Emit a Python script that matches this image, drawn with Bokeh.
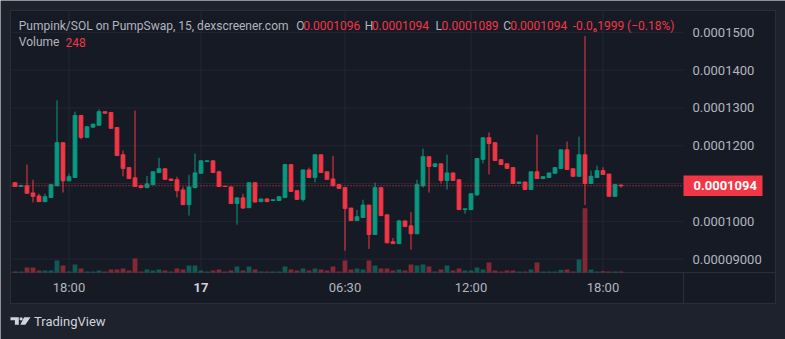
import numpy as np
from bokeh.plotting import figure
from bokeh.models import Range1d, Label, ColumnDataSource
from bokeh.embed import file_html
from bokeh.resources import INLINE

# ---------------- data ----------------
time_tick_index = [9, 31, 55, 76, 98]
time_tick_labels = ["18:00", "17", "06:30", "12:00", "18:00"]
time_tick_bold = [False, True, False, False, False]

price_ticks = [0.00009, 0.0001, 0.00011, 0.00012, 0.00013, 0.00014, 0.00015]
price_tick_labels = ["0.00009000", "0.0001000", "0.0001100", "0.0001200",
                     "0.0001300", "0.0001400", "0.0001500"]

opens = [
    0.0001102, 0.0001092, 0.0001094, 0.0001075, 0.0001067, 0.0001052, 0.0001063, 0.0001094, 0.0001208, 0.0001107,
    0.0001116, 0.0001280, 0.0001222, 0.0001249, 0.0001254, 0.0001290, 0.0001288, 0.0001248, 0.0001176, 0.0001142,
    0.0001115, 0.0001094, 0.0001089, 0.0001097, 0.0001129, 0.0001139, 0.0001112, 0.0001110, 0.0001083, 0.0001044,
    0.0001089, 0.0001127, 0.0001158, 0.0001160, 0.0001131, 0.0001093, 0.0001091, 0.0001047, 0.0001062, 0.0001036,
    0.0001102, 0.0001052, 0.0001059, 0.0001055, 0.0001055, 0.0001063, 0.0001150, 0.0001081, 0.0001058, 0.0001136,
    0.0001116, 0.0001176, 0.0001131, 0.0001112, 0.0001097, 0.0001089, 0.0001035, 0.0001002, 0.0001010, 0.0001043,
    0.0000965, 0.0001089, 0.0001017, 0.0000946, 0.0000941, 0.0001001, 0.0000988, 0.0000967, 0.0001094, 0.0001171,
    0.0001145, 0.0001152, 0.0001108, 0.0001128, 0.0001110, 0.0001031, 0.0001031, 0.0001070, 0.0001164, 0.0001221,
    0.0001208, 0.0001163, 0.0001152, 0.0001142, 0.0001100, 0.0001104, 0.0001084, 0.0001131, 0.0001113, 0.0001116,
    0.0001127, 0.0001140, 0.0001189, 0.0001139, 0.0001119, 0.0001176, 0.0001100, 0.0001116, 0.0001134, 0.0001125,
    0.0001066, 0.0001096]

highs = [
    0.0001104, 0.0001097, 0.0001150, 0.0001110, 0.0001073, 0.0001073, 0.0001099, 0.0001320, 0.0001208, 0.0001126,
    0.0001290, 0.0001280, 0.0001250, 0.0001257, 0.0001296, 0.0001290, 0.0001288, 0.0001248, 0.0001187, 0.0001142,
    0.0001293, 0.0001097, 0.0001120, 0.0001131, 0.0001168, 0.0001139, 0.0001112, 0.0001118, 0.0001091, 0.0001123,
    0.0001179, 0.0001160, 0.0001160, 0.0001160, 0.0001134, 0.0001093, 0.0001091, 0.0001062, 0.0001073, 0.0001102,
    0.0001102, 0.0001059, 0.0001062, 0.0001057, 0.0001065, 0.0001150, 0.0001150, 0.0001081, 0.0001136, 0.0001142,
    0.0001176, 0.0001176, 0.0001131, 0.0001173, 0.0001097, 0.0001089, 0.0001035, 0.0001030, 0.0001057, 0.0001043,
    0.0001102, 0.0001089, 0.0001017, 0.0000956, 0.0001004, 0.0001001, 0.0001025, 0.0001110, 0.0001192, 0.0001171,
    0.0001152, 0.0001152, 0.0001176, 0.0001128, 0.0001110, 0.0001033, 0.0001073, 0.0001166, 0.0001221, 0.0001235,
    0.0001208, 0.0001163, 0.0001152, 0.0001142, 0.0001104, 0.0001104, 0.0001131, 0.0001229, 0.0001118, 0.0001128,
    0.0001142, 0.0001189, 0.0001211, 0.0001139, 0.0001224, 0.0001490, 0.0001134, 0.0001147, 0.0001143, 0.0001125,
    0.0001097, 0.0001096]

lows = [
    0.0001092, 0.0001092, 0.0001074, 0.0001050, 0.0001052, 0.0001052, 0.0001063, 0.0001094, 0.0001076, 0.0001107,
    0.0001116, 0.0001217, 0.0001222, 0.0001249, 0.0001254, 0.0001286, 0.0001246, 0.0001174, 0.0001119, 0.0001113,
    0.0001092, 0.0001089, 0.0001089, 0.0001097, 0.0001129, 0.0001111, 0.0001108, 0.0001063, 0.0001044, 0.0001015,
    0.0001089, 0.0001127, 0.0001158, 0.0001129, 0.0001092, 0.0001092, 0.0001047, 0.0000991, 0.0001033, 0.0001036,
    0.0001050, 0.0001052, 0.0001052, 0.0001055, 0.0001055, 0.0001063, 0.0001079, 0.0001058, 0.0001052, 0.0001116,
    0.0001103, 0.0001129, 0.0001111, 0.0001094, 0.0001087, 0.0000922, 0.0001002, 0.0001002, 0.0001010, 0.0000927,
    0.0000965, 0.0001015, 0.0000943, 0.0000941, 0.0000941, 0.0000986, 0.0000925, 0.0000967, 0.0001089, 0.0001076,
    0.0001143, 0.0001100, 0.0001084, 0.0001108, 0.0001031, 0.0001020, 0.0001031, 0.0001067, 0.0001153, 0.0001124,
    0.0001161, 0.0001150, 0.0001140, 0.0001100, 0.0001100, 0.0001084, 0.0001084, 0.0001113, 0.0001113, 0.0001116,
    0.0001127, 0.0001140, 0.0001137, 0.0001119, 0.0001119, 0.0001043, 0.0001100, 0.0001116, 0.0001124, 0.0001066,
    0.0001066, 0.0001089]

closes = [
    0.0001092, 0.0001094, 0.0001074, 0.0001066, 0.0001052, 0.0001065, 0.0001097, 0.0001208, 0.0001107, 0.0001118,
    0.0001280, 0.0001222, 0.0001250, 0.0001257, 0.0001290, 0.0001286, 0.0001246, 0.0001174, 0.0001140, 0.0001113,
    0.0001092, 0.0001089, 0.0001099, 0.0001131, 0.0001139, 0.0001111, 0.0001108, 0.0001081, 0.0001044, 0.0001091,
    0.0001128, 0.0001160, 0.0001160, 0.0001129, 0.0001092, 0.0001092, 0.0001047, 0.0001062, 0.0001035, 0.0001102,
    0.0001051, 0.0001059, 0.0001052, 0.0001057, 0.0001065, 0.0001150, 0.0001079, 0.0001058, 0.0001136, 0.0001116,
    0.0001176, 0.0001129, 0.0001111, 0.0001094, 0.0001087, 0.0001034, 0.0001002, 0.0001012, 0.0001043, 0.0000965,
    0.0001089, 0.0001015, 0.0000943, 0.0000941, 0.0001001, 0.0000986, 0.0000967, 0.0001097, 0.0001171, 0.0001145,
    0.0001152, 0.0001108, 0.0001128, 0.0001108, 0.0001031, 0.0001033, 0.0001073, 0.0001166, 0.0001221, 0.0001206,
    0.0001161, 0.0001150, 0.0001140, 0.0001100, 0.0001104, 0.0001084, 0.0001131, 0.0001113, 0.0001118, 0.0001128,
    0.0001142, 0.0001189, 0.0001137, 0.0001119, 0.0001176, 0.0001100, 0.0001119, 0.0001134, 0.0001124, 0.0001066,
    0.0001097, 0.0001094]

volumes = [
    240, 240, 1200, 1200, 480, 480, 480, 2880, 1680, 240,
    1920, 960, 240, 240, 480, 240, 720, 720, 960, 480,
    3360, 240, 720, 480, 720, 480, 240, 960, 720, 1680,
    1680, 480, 240, 480, 720, 240, 480, 1440, 480, 1440,
    720, 240, 240, 240, 240, 1440, 720, 480, 960, 480,
    960, 720, 480, 1440, 240, 2880, 720, 960, 720, 2880,
    1680, 960, 960, 480, 720, 480, 1920, 1680, 1920, 1440,
    240, 720, 1680, 480, 960, 480, 480, 1200, 720, 2400,
    480, 240, 480, 480, 240, 240, 720, 2400, 240, 240,
    240, 640, 720, 240, 3120, 15440, 720, 240, 320, 240,
    240, 248]

header_title = "Pumpink/SOL on PumpSwap, 15, dexscreener.com"
header_ohlc = [("O", "0.0001096"), ("H", "0.0001094"), ("L", "0.0001089"), ("C", "0.0001094")]
header_change = "-0.0\u20861999 (\u22120.18%)"
volume_label = "248"
last_price_label = "0.0001094"

# ---------------- styling / layout ----------------
UP, DOWN = "#089981", "#f23645"
BG, OUTER, EDGE = "#161a25", "#1e222d", "#2a2e39"
GRID = "#232633"
TXT = "#b2b5be"
FONT = "Roboto"

W, H = 785, 339
PANEL_L, PANEL_T, PANEL_R, PANEL_B = 10, 10, 775, 303
SCALE_X, SCALE_Y = 683, 272          # price-scale / time-scale borders (px)
BAR_PX, FIRST_BAR_PX = 6.0, 14.5
PRICE_PX_PER_UNIT, P150_PX = 0.378, 31.8   # px per 1e-7, px of 0.00015

X0 = -FIRST_BAR_PX / BAR_PX
X1 = X0 + W / BAR_PX
Y1 = 0.00015 + (P150_PX - 0) / PRICE_PX_PER_UNIT * 1e-7
Y0 = 0.00015 - (H - P150_PX) / PRICE_PX_PER_UNIT * 1e-7


def dx(px):
    return X0 + px * (X1 - X0) / W


def dy(py):
    return Y1 - py * (Y1 - Y0) / H


p = figure(width=W, height=H, output_backend="svg", toolbar_location=None,
           x_axis_location=None, y_axis_location=None,
           x_range=Range1d(X0, X1), y_range=Range1d(Y0, Y1),
           min_border_left=0, min_border_top=0, min_border_right=0, min_border_bottom=0,
           background_fill_color=OUTER, border_fill_color=OUTER, outline_line_color=None)
p.xgrid.visible = False
p.ygrid.visible = False

# volume scale: bars start on top of the time scale, 240 units per px
vol_per_px = 240.0
p.extra_y_ranges = {"vol": Range1d(-(H - SCALE_Y) * vol_per_px, SCALE_Y * vol_per_px)}

# chart panel
p.quad(left=[dx(PANEL_L)], right=[dx(PANEL_R)], top=[dy(PANEL_T)], bottom=[dy(PANEL_B)],
       fill_color=BG, line_color=EDGE, line_width=1)

n = len(opens)
idx = np.arange(n)
o = np.array(opens); c = np.array(closes); hi = np.array(highs); lo = np.array(lows)
colors = [UP if cc >= oo else DOWN for oo, cc in zip(opens, closes)]

src = ColumnDataSource(dict(x=idx, o=o, c=c, h=hi, l=lo,
                            top=np.maximum(o, c), bot=np.minimum(o, c),
                            vol=volumes, color=colors))

# grid
p.segment(x0=dx(PANEL_L + 1), x1=dx(SCALE_X), y0=price_ticks, y1=price_ticks, line_color=GRID, line_width=1)
p.segment(x0=time_tick_index, x1=time_tick_index, y0=dy(SCALE_Y), y1=dy(PANEL_T + 1),
          line_color=GRID, line_width=1)
# scale separators
p.segment(x0=[dx(PANEL_L)], x1=[dx(PANEL_R)], y0=[dy(SCALE_Y)], y1=[dy(SCALE_Y)], line_color=EDGE, line_width=1)
p.segment(x0=[dx(SCALE_X)], x1=[dx(SCALE_X)], y0=[dy(SCALE_Y)], y1=[dy(PANEL_B)], line_color=EDGE, line_width=1)

# volume
p.vbar(x="x", top="vol", bottom=0, width=0.8, fill_color="color", fill_alpha=0.5,
       line_color=None, y_range_name="vol", source=src)

# candles
p.segment(x0="x", x1="x", y0="l", y1="h", line_color="color", line_width=1, source=src)
p.vbar(x="x", top="top", bottom="bot", width=0.62, fill_color="color", line_color="color",
       line_width=1, source=src)

# last price line
last = closes[-1]
p.segment(x0=[dx(PANEL_L + 1)], x1=[dx(SCALE_X)], y0=[last], y1=[last], line_color=DOWN, line_width=1,
          line_dash="1 2")

# price scale labels
for v, t in zip(price_ticks, price_tick_labels):
    if abs(v - 0.00011) < 1e-12:
        continue  # hidden behind the last-price tag
    p.add_layout(Label(x=dx(692), y=v, text=t, text_font=FONT, text_font_size="13px",
                       text_color=TXT, text_align="left", text_baseline="middle"))

# last price tag
half = 10.3 * (Y1 - Y0) / H
p.quad(left=[dx(SCALE_X)], right=[dx(762)], bottom=[last - half], top=[last + half],
       fill_color=DOWN, line_color=None)
p.add_layout(Label(x=dx(693), y=last, text=last_price_label, text_font=FONT,
                   text_font_size="13px", text_font_style="bold", text_color="#ffffff",
                   text_align="left", text_baseline="middle"))

# time scale labels
for i, t, b in zip(time_tick_index, time_tick_labels, time_tick_bold):
    p.add_layout(Label(x=i, y=dy(287), text=t, text_font=FONT, text_font_size="13px",
                       text_font_style="bold" if b else "normal",
                       text_color="#d1d4dc" if b else TXT,
                       text_align="center", text_baseline="middle"))


# legend header
def hlabel(px, py, text, color):
    p.add_layout(Label(x=dx(px), y=dy(py), text=text, text_font=FONT, text_font_size="12px",
                       text_color=color, text_align="left", text_baseline="middle"))


hlabel(18.3, 25, header_title, TXT)
for (k, v), kx, vx in zip(header_ohlc, [295.7, 364.3, 435.0, 502.7], [302.7, 371.3, 441.0, 509.7]):
    hlabel(kx, 25, k, TXT)
    hlabel(vx, 25, v, DOWN)
hlabel(572.3, 25, header_change, DOWN)
hlabel(18.3, 41.7, "Volume", TXT)
hlabel(65.0, 41.7, volume_label, DOWN)

# TradingView logo
LOGO = "#d1d4dc"
p.patches(xs=[[dx(10), dx(18.3), dx(18.3), dx(14.4), dx(14.4), dx(10)],
              [dx(23.6), dx(30), dx(24.9), dx(19.8)]],
          ys=[[dy(316.8), dy(316.8), dy(324.3), dy(324.3), dy(319.7), dy(319.7)],
              [dy(316.8), dy(316.8), dy(324.3), dy(324.3)]],
          fill_color=LOGO, line_color=None)
p.scatter(x=[dx(20.6)], y=[dy(318.3)], size=3.2, marker="circle", fill_color=LOGO, line_color=None)
p.add_layout(Label(x=dx(33.5), y=dy(321), text="TradingView", text_font=FONT,
                   text_font_size="13px", text_color=LOGO, text_align="left",
                   text_baseline="middle"))

open("out.html", "w").write(file_html(p, INLINE))
